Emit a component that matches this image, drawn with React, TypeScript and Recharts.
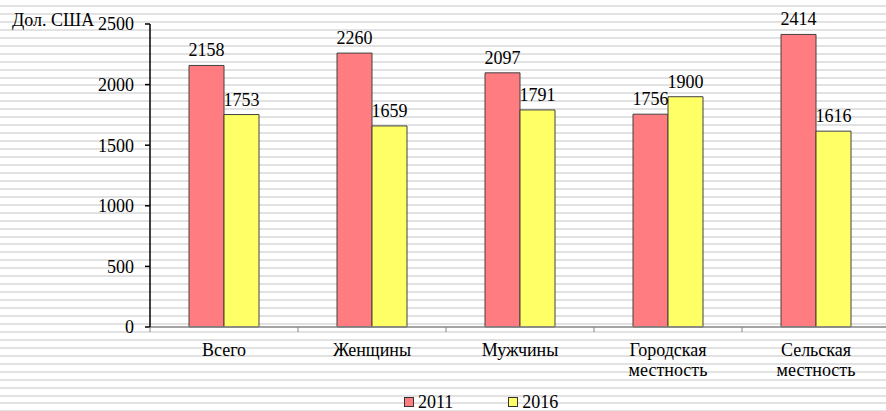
import React from "react";
import { Bar, BarChart, LabelList, XAxis, YAxis } from "recharts";

const categories = ["Всего", "Женщины", "Мужчины", "Городская\nместность", "Сельская\nместность"];
const values2011 = [2158, 2260, 2097, 1756, 2414];
const values2016 = [1753, 1659, 1791, 1900, 1616];
const yTicks = [0, 500, 1000, 1500, 2000, 2500];

const series = [
  { key: "y2011", name: "2011", color: "#FF7C80", values: values2011 },
  { key: "y2016", name: "2016", color: "#FFFF66", values: values2016 },
];

const data = categories.map((name, i) => {
  const row: Record<string, string | number> = { name };
  series.forEach((s) => {
    row[s.key] = s.values[i];
  });
  return row;
});

const FONT = "'Liberation Serif', 'Times New Roman', serif";

const CategoryTick = (props: any) => {
  const { x, y, payload } = props;
  const half = payload && payload.offset ? payload.offset : 74;
  const lines = String(payload.value).split("\n");
  return (
    <g>
      <line x1={x - half} y1={y - 8} x2={x - half} y2={y - 3} stroke="#868686" strokeWidth={1} />
      <text x={x} y={y + 21} textAnchor="middle" fontFamily={FONT} fontSize={18} fill="#000">
        {lines.map((line, i) => (
          <tspan key={i} x={x} dy={i === 0 ? 0 : 20}>
            {line}
          </tspan>
        ))}
      </text>
    </g>
  );
};

export default function App() {
  return (
    <div
      style={{
        position: "fixed",
        left: 0,
        top: 0,
        width: 886,
        height: 411,
        overflow: "hidden",
        background:
          "repeating-linear-gradient(to bottom, #ffffff 0px, #ffffff 5px, #e2e2e2 5px, #e2e2e2 7px, #ffffff 7px, #ffffff 7.95px)",
        fontFamily: FONT,
      }}
    >
      <BarChart
        width={886}
        height={411}
        data={data}
        margin={{ top: 24, right: -4, bottom: 24, left: 0 }}
        barGap={0}
        barSize={35}
      >
        <XAxis
          dataKey="name"
          interval={0}
          height={60}
          axisLine={{ stroke: "#868686", strokeWidth: 1.5 }}
          tickLine={false}
          tick={<CategoryTick />}
        />
        <YAxis
          width={150}
          domain={[0, 2500]}
          ticks={yTicks}
          interval={0}
          axisLine={{ stroke: "#000", strokeWidth: 1.5 }}
          tickLine={{ stroke: "#000", strokeWidth: 1.5 }}
          tickSize={5}
          tickMargin={11}
          tick={{ fontFamily: FONT, fontSize: 18, fill: "#000" }}
        />
        {series.map((s) => (
          <Bar
            key={s.key}
            dataKey={s.key}
            name={s.name}
            fill={s.color}
            stroke="#404040"
            strokeWidth={1}
            isAnimationActive={false}
          >
            <LabelList
              dataKey={s.key}
              position="top"
              offset={9}
              style={{ fontFamily: FONT, fontSize: 18, fill: "#000" }}
            />
          </Bar>
        ))}
      </BarChart>
      <div
        style={{
          position: "absolute",
          left: 12,
          top: 10,
          fontSize: 18,
          lineHeight: "20px",
          color: "#000",
        }}
      >
        Дол. США
      </div>
      <div
        style={{
          position: "absolute",
          left: 404,
          top: 393,
          display: "flex",
          alignItems: "center",
          gap: 55,
          fontSize: 18,
          lineHeight: "18px",
        }}
      >
        {series.map((s) => (
          <div key={s.key} style={{ display: "flex", alignItems: "center", gap: 4 }}>
            <span
              style={{
                display: "inline-block",
                width: 8,
                height: 8,
                background: s.color,
                border: "1px solid #333",
              }}
            />
            <span>{s.name}</span>
          </div>
        ))}
      </div>
    </div>
  );
}
